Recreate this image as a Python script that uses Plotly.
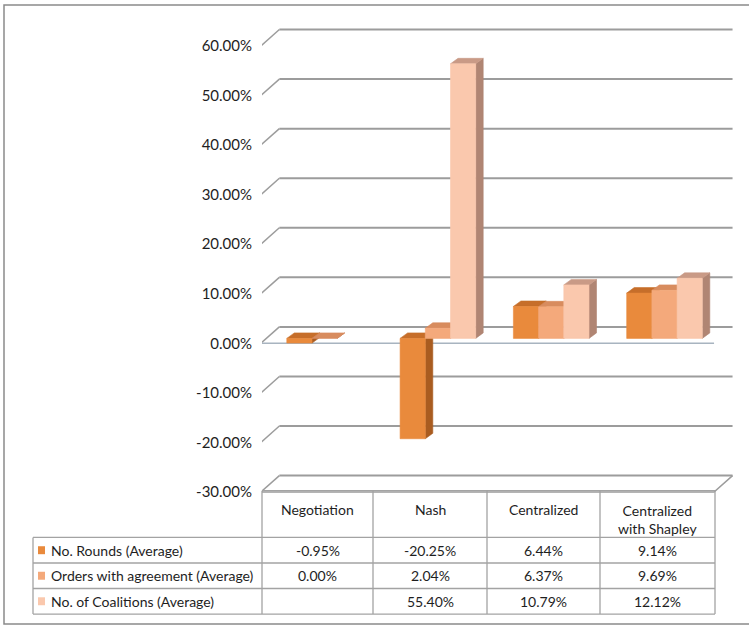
import plotly.graph_objects as go

# ---------------- data ----------------
categories = ["Negotiation", "Nash", "Centralized", "Centralized<br>with Shapley"]
series_names = ["No. Rounds (Average)", "Orders with agreement (Average)", "No. of Coalitions (Average)"]
rounds = [-0.95, -20.25, 6.44, 9.14]
orders = [0.00, 2.04, 6.37, 9.69]
coalitions = [None, 55.40, 10.79, 12.12]
tick_values = [-30, -20, -10, 0, 10, 20, 30, 40, 50, 60]
tick_labels = ["-30.00%", "-20.00%", "-10.00%", "0.00%", "10.00%", "20.00%",
               "30.00%", "40.00%", "50.00%", "60.00%"]

series_values = [rounds, orders, coalitions]
front_colors = ["#E98A3C", "#F4A97B", "#FAC8AD"]
top_colors = ["#C66E2A", "#D88C5E", "#C99A86"]
side_colors = ["#A95C20", "#C47E58", "#B08573"]

# ---------------- geometry ----------------
W, H = 749, 629
X_C0, X_STEP = 317.5, 113.3       # px of first category centre, px per category
Y_ZERO, Y_SCALE = 345.0, 4.98     # px of 0 % on the front plane, px per 1 %
PL, PR, PT, PB = 262, 740, 25, 500

x_range = [(PL - X_C0) / X_STEP, (PR - X_C0) / X_STEP]
y_range = [(Y_ZERO - PB) / Y_SCALE, (Y_ZERO - PT) / Y_SCALE]

DX = 18.5 / X_STEP     # full depth offset (back wall)
DY = 16.5 / Y_SCALE
BAR_OFF = -30.7 / X_STEP
BAR_W = 25.2 / X_STEP
BDX = 7.5 / X_STEP     # bar depth
BDY = 5.5 / Y_SCALE
V_BASE = 5.0 / Y_SCALE  # bars front face sit slightly behind the front plane

GRID = "#9C9C9C"
n_cat = len(categories)
x_left, x_right = -0.5, n_cat - 0.5
vmin, vmax = tick_values[0], tick_values[-1]

fig = go.Figure()


def line(xs, ys, color=GRID, width=1.8):
    fig.add_trace(go.Scatter(x=xs, y=ys, mode="lines", line=dict(color=color, width=width),
                             hoverinfo="skip", showlegend=False))


def poly(pts, color):
    xs = [p[0] for p in pts] + [pts[0][0]]
    ys = [p[1] for p in pts] + [pts[0][1]]
    fig.add_trace(go.Scatter(x=xs, y=ys, mode="lines", fill="toself", fillcolor=color,
                             line=dict(color=color, width=0.6), hoverinfo="skip",
                             showlegend=False))


# back wall gridlines and side diagonals
for t in tick_values:
    line([x_left + DX, x_right + DX], [t + DY, t + DY], width=2)
    line([x_left, x_left + DX], [t, t + DY], width=1.5)

# floor
line([x_left, x_right, x_right + DX], [vmin, vmin, vmin + DY], width=1.5)
# front vertical axis
line([x_left, x_left], [vmin, vmax], width=1.5)
# front zero line
line([x_left, x_right], [0, 0], width=1.5, color="#A8B4C0")

# bars (painter's order)
for i in range(n_cat):
    for s, vals in enumerate(series_values):
        v = vals[i]
        if v is None:
            continue
        x0 = i + BAR_OFF + s * BAR_W
        x1 = x0 + BAR_W
        b, t = V_BASE, V_BASE + v
        lo, hi = min(b, t), max(b, t)
        poly([(x1, lo), (x1 + BDX, lo + BDY), (x1 + BDX, hi + BDY), (x1, hi)], side_colors[s])
        poly([(x0, hi), (x1, hi), (x1 + BDX, hi + BDY), (x0 + BDX, hi + BDY)], top_colors[s])
        if hi - lo > 0:
            poly([(x0, lo), (x1, lo), (x1, hi), (x0, hi)], front_colors[s])


# ---------------- table (layout) ----------------
def px(x):
    return x / W


def py(y):
    return 1 - y / H


FONT = "Lato, 'Open Sans', 'Noto Sans', sans-serif"
TXT = "#1E1E1E"
TLINE = "#A3A3A3"
col_edges = [33, 262, 373, 487, 600, 715]
row_edges = [540, 565.7, 591.3, 617]
head_top = 493

shapes = []


def sline(x0, y0, x1, y1, color=TLINE, width=1.3):
    shapes.append(dict(type="line", xref="paper", yref="paper", x0=px(x0), y0=py(y0),
                       x1=px(x1), y1=py(y1), line=dict(color=color, width=width)))


sline(col_edges[1], head_top, col_edges[-1], head_top)
for y in row_edges:
    sline(col_edges[0], y, col_edges[-1], y)
sline(col_edges[0], row_edges[0], col_edges[0], row_edges[-1])
for x in col_edges[1:]:
    sline(x, head_top, x, row_edges[-1])

# outer frame
shapes.append(dict(type="rect", xref="paper", yref="paper", x0=px(4), y0=py(627),
                   x1=px(765), y1=py(5), line=dict(color="#8A8A8A", width=1.5)))

annotations = []
for c, name in enumerate(categories):
    cx = (col_edges[c + 1] + col_edges[c + 2]) / 2
    nl = name.count("<br>") + 1
    cy = 512 + (nl - 1) * 9.5
    annotations.append(dict(x=px(cx), y=py(cy), xref="paper", yref="paper", text=name,
                            showarrow=False, xanchor="center", yanchor="middle",
                            font=dict(family=FONT, size=14, color=TXT)))

for r, (name, vals) in enumerate(zip(series_names, series_values)):
    cy = (row_edges[r] + row_edges[r + 1]) / 2
    shapes.append(dict(type="rect", xref="paper", yref="paper", x0=px(38), x1=px(45),
                       y0=py(cy + 4), y1=py(cy - 4), fillcolor=front_colors[r],
                       line=dict(width=0)))
    annotations.append(dict(x=px(49), y=py(cy), xref="paper", yref="paper", text=name,
                            showarrow=False, xanchor="left", yanchor="middle",
                            font=dict(family=FONT, size=14, color=TXT)))
    for c, v in enumerate(vals):
        if v is None:
            continue
        cx = (col_edges[c + 1] + col_edges[c + 2]) / 2
        annotations.append(dict(x=px(cx), y=py(cy), xref="paper", yref="paper",
                                text=f"{v:.2f}%", showarrow=False, xanchor="center",
                                yanchor="middle", font=dict(family=FONT, size=14, color=TXT)))

fig.update_layout(
    width=W, height=H, margin=dict(l=0, r=0, t=0, b=0),
    paper_bgcolor="white", plot_bgcolor="rgba(0,0,0,0)",
    showlegend=False, shapes=shapes, annotations=annotations,
    xaxis=dict(domain=[px(PL), px(PR)], range=x_range, visible=False, fixedrange=True),
    yaxis=dict(domain=[py(PB), py(PT)], range=y_range, tickvals=tick_values,
               ticktext=tick_labels, showgrid=False, zeroline=False, showline=False,
               ticks="outside", ticklen=4, tickcolor="rgba(0,0,0,0)",
               ticklabelstandoff=2,
               tickfont=dict(family=FONT, size=15, color=TXT), fixedrange=True),
)

fig.write_html("out.html", config={"displayModeBar": False},
               post_script="document.body.style.margin='0';document.body.style.overflow='hidden';")
